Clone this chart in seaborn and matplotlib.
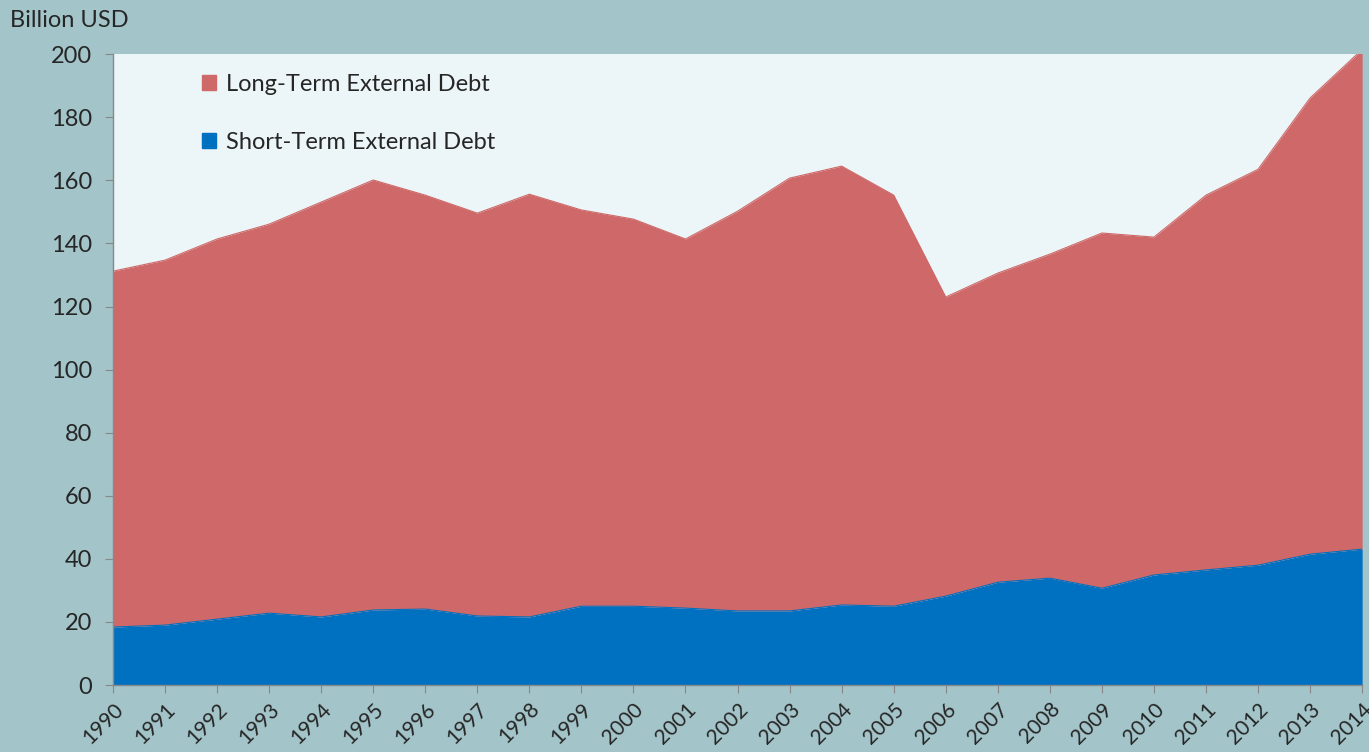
import numpy as np
import pandas as pd
import matplotlib.pyplot as plt
import seaborn as sns
from matplotlib.patches import Patch

# values (billion usd)
years = list(range(1990, 2015))
short_term = [18.4, 19.0, 20.9, 22.8, 21.6, 23.8, 24.1, 21.9, 21.6, 25.0,
              25.0, 24.4, 23.5, 23.5, 25.4, 25.0, 28.2, 32.6, 33.9, 30.7,
              34.9, 36.5, 38.0, 41.5, 43.1]
total_debt = [131.2, 134.7, 141.4, 146.1, 153.1, 160.1, 155.3, 149.6, 155.6, 150.6,
              147.7, 141.4, 150.2, 160.7, 164.5, 155.3, 123.0, 130.6, 136.6, 143.3,
              142.0, 155.3, 163.5, 186.1, 201.5]
long_term = [t - s for t, s in zip(total_debt, short_term)]

df = pd.DataFrame({'Year': years, 'Short': short_term, 'Long': long_term})
df['Total'] = df['Short'] + df['Long']

blue = '#0070c0'
red = '#cf6868'

sns.set_style('white')
plt.rcParams['font.family'] = ['Lato', 'DejaVu Sans']

fig = plt.figure(figsize=(13.69, 7.52), dpi=100, facecolor='#a3c4c9')
ax = fig.add_axes([0.0825, 0.089, 0.9125, 0.839])
ax.set_facecolor('#ecf5f7')

ax.stackplot(df['Year'], df['Short'], df['Long'], colors=[blue, red], linewidth=0)
sns.lineplot(data=df, x='Year', y='Total', color=red, linewidth=0.8, ax=ax)
sns.lineplot(data=df, x='Year', y='Short', color=blue, linewidth=0.8, ax=ax)

ax.set_xlim(1990, 2014)
ax.set_ylim(0, 200)
ax.set_xticks(years)
ax.set_xticklabels([str(y) for y in years], rotation=45, ha='right',
                   rotation_mode='anchor', fontsize=15)
ax.set_yticks(range(0, 201, 20))
ax.tick_params(axis='y', labelsize=17, length=6, color='#888888', direction='out', left=True, pad=9)
ax.tick_params(axis='x', length=6, color='#888888', direction='out', bottom=True, pad=4)
ax.set_xlabel('')
ax.set_ylabel('')

for side in ['top', 'right']:
    ax.spines[side].set_visible(False)
for side in ['left', 'bottom']:
    ax.spines[side].set_color('#888888')
    ax.spines[side].set_linewidth(1)

fig.text(0.007, 0.973, 'Billion USD', fontsize=17, ha='left', va='center')

handles = [Patch(color=red, label='Long-Term External Debt'),
           Patch(color=blue, label='Short-Term External Debt')]
ax.legend(handles=handles, loc='upper left', bbox_to_anchor=(0.054, 1.002),
          frameon=False, fontsize=17, labelspacing=1.55,
          handlelength=0.6, handleheight=0.6, handletextpad=0.45)

plt.savefig('out.png', dpi=100, facecolor=fig.get_facecolor())
